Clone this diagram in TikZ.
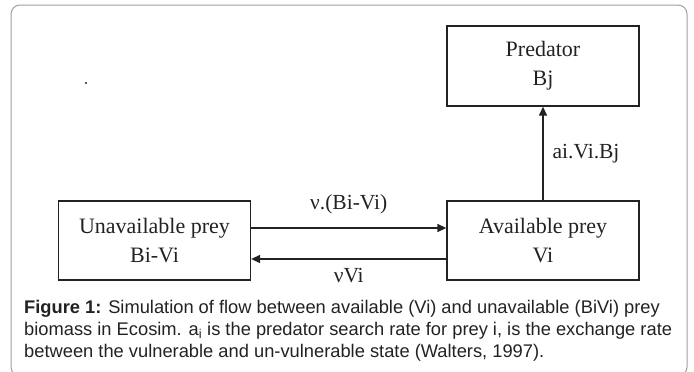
\documentclass[tikz,border=0pt]{standalone}
\usepackage{fontspec}
\setmainfont{Liberation Serif}
\newfontfamily\capfont{Liberation Sans}
\usetikzlibrary{arrows.meta,calc}
\definecolor{frame}{HTML}{A0A0A0}
\definecolor{ink}{HTML}{222222}
\tikzset{
  boxnode/.style={draw=ink, line width=1.3pt, minimum width=192pt, minimum height=79pt,
    align=center, font=\fontsize{22}{29}\selectfont, text=ink, inner sep=0pt},
  arr/.style={draw=ink, line width=1.3pt, -{Triangle[length=9pt,width=8pt]}},
  lbl/.style={font=\fontsize{21.5}{24}\selectfont, text=ink, inner sep=0pt},
  captext/.style={font=\capfont\fontsize{18.3}{22}\selectfont, text=ink, anchor=base west, inner sep=0pt}
}
\begin{document}
\begin{tikzpicture}[x=1pt,y=-1pt]
\useasboundingbox (0,0) rectangle (694,372);
\begin{scope}
\clip (0,0) rectangle (694,372);
\draw[frame, line width=1pt, rounded corners=9pt] (11,5) rectangle (687,376);
\end{scope}
\fill[ink] (86,83) circle (1.2pt);
\node[boxnode, minimum height=80pt] (pred) at (543,66) {Predator\\Bj};
\node[boxnode] (unav) at (154.5,240.5) {Unavailable prey\\Bi-Vi};
\node[boxnode] (avail) at (543,240.5) {Available prey\\Vi};
\draw[arr] ($(unav.east)+(0,-12.5)$) -- node[lbl, above=13pt] {ν.(Bi-Vi)} ($(avail.west)+(0,-12.5)$);
\draw[arr] ($(avail.west)+(0,18.5)$) -- node[lbl, below=9pt] {νVi} ($(unav.east)+(0,18.5)$);
\draw[arr] (avail.north) -- node[lbl, right=9pt] {ai.Vi.Bj} (pred.south);
\node[captext] (cap1) at (24,313) {\textbf{Figure 1:} Simulation of flow between available (Vi) and unavailable (BiVi) prey};
\node[captext] (cap2) at (24,335) {biomass in Ecosim. a\textsubscript{i} is the predator search rate for prey i, is the exchange rate};
\node[captext] (cap3) at (24,357) {between the vulnerable and un-vulnerable state (Walters, 1997).};
\end{tikzpicture}
\end{document}
